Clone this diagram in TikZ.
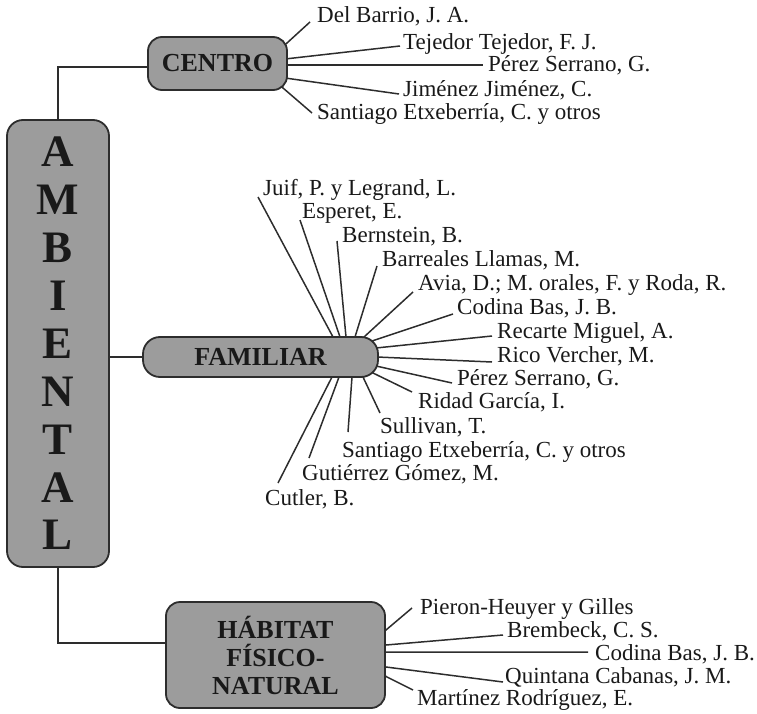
\documentclass[tikz,border=0pt]{standalone}
\usepackage{fontspec}
\setmainfont{Liberation Serif}
\usetikzlibrary{backgrounds}
\definecolor{boxgray}{RGB}{156,156,156}
\definecolor{linecol}{RGB}{45,45,45}
\definecolor{txtcol}{RGB}{25,25,25}
\begin{document}
\begin{tikzpicture}[x=1bp,y=-1bp,
  box/.style={draw=linecol, line width=1.8bp, fill=boxgray, text=txtcol,
    font=\bfseries\fontsize{26bp}{28bp}\selectfont, inner sep=0, rounded corners=14bp},
  lbl/.style={anchor=base west, inner sep=0, text=txtcol,
    font=\fontsize{23bp}{24bp}\selectfont},
  conn/.style={draw=linecol, line width=1.5bp}]
\useasboundingbox (0,0) rectangle (757,714);

% main boxes
\node[box, minimum width=102bp, minimum height=447bp, rounded corners=16bp, align=center,
  font=\bfseries\fontsize{45bp}{47.9bp}\selectfont] (amb) at (58,343.5)
  {A\\M\\B\\I\\E\\N\\T\\A\\L};
\node[box, minimum width=139bp, minimum height=53bp] (centro) at (217.5,63.5) {CENTRO};
\node[box, minimum width=235bp, minimum height=40bp, rounded corners=17bp] (fam) at (260.5,357) {FAMILIAR};
\node[box, minimum width=219bp, minimum height=106bp, align=center] (hab) at (275.5,655)
  {HÁBITAT\\FÍSICO-\\NATURAL};

% main connectors
\draw[conn] (amb.north) |- ([yshift=-3.5bp]centro.west);
\draw[conn] (amb.east |- fam.west) -- (fam.west);
\draw[conn] (amb.south) |- ([yshift=12bp]hab.west);

% centres of the fans (hidden under the boxes)
\coordinate (cc) at (260,65);
\coordinate (fc) at (350,357);
\coordinate (hc) at (355,655);

% CENTRO labels
\node[lbl] (c1) at (317,23) {Del Barrio, J. A.};
\node[lbl] (c2) at (403,50) {Tejedor Tejedor, F. J.};
\node[lbl] (c3) at (488,72) {Pérez Serrano, G.};
\node[lbl] (c4) at (403,97) {Jiménez Jiménez, C.};
\node[lbl] (c5) at (317,120) {Santiago Etxeberría, C. y otros};

% FAMILIAR labels
\node[lbl] (f1) at (263,195) {Juif, P. y Legrand, L.};
\node[lbl] (f2) at (302,218) {Esperet, E.};
\node[lbl] (f3) at (342,242) {Bernstein, B.};
\node[lbl] (f4) at (382,266) {Barreales Llamas, M.};
\node[lbl] (f5) at (418,290) {Avia, D.; M. orales, F. y Roda, R.};
\node[lbl] (f6) at (457,314) {Codina Bas, J. B.};
\node[lbl] (f7) at (497,338) {Recarte Miguel, A.};
\node[lbl] (f8) at (497,362) {Rico Vercher, M.};
\node[lbl] (f9) at (457,385) {Pérez Serrano, G.};
\node[lbl] (f10) at (418,408) {Ridad García, I.};
\node[lbl] (f11) at (380,433) {Sullivan, T.};
\node[lbl] (f12) at (342,457) {Santiago Etxeberría, C. y otros};
\node[lbl] (f13) at (302,480) {Gutiérrez Gómez, M.};
\node[lbl] (f14) at (265,505) {Cutler, B.};

% HABITAT labels
\node[lbl] (h1) at (420,614) {Pieron-Heuyer y Gilles};
\node[lbl] (h2) at (507,637) {Brembeck, C. S.};
\node[lbl] (h3) at (595,660) {Codina Bas, J. B.};
\node[lbl] (h4) at (505,683) {Quintana Cabanas, J. M.};
\node[lbl] (h5) at (417,705) {Martínez Rodríguez, E.};

\begin{pgfonlayer}{background}
% CENTRO fan
\draw[conn] (cc) -- (287,43) -- ([shift={(-7,-1)}]c1.base west);
\draw[conn] (cc) -- (285,59) -- ([shift={(-3,-4)}]c2.base west);
\draw[conn] (cc) -- (286,65) -- ([shift={(-5,-7)}]c3.base west);
\draw[conn] (cc) -- (285,78) -- ([shift={(-4,-3)}]c4.base west);
\draw[conn] (cc) -- (283,88) -- ([shift={(-5,-7)}]c5.base west);
% FAMILIAR fan
\draw[conn] (fc) -- (333,337) -- ([shift={(-5,2)}]f1.base west);
\draw[conn] (fc) -- (340,337) -- ([shift={(-2,2)}]f2.base west);
\draw[conn] (fc) -- (346,337) -- ([shift={(-5,-1)}]f3.base west);
\draw[conn] (fc) -- (355,337) -- ([shift={(-5,0)}]f4.base west);
\draw[conn] (fc) -- (364,337) -- ([shift={(-5,2)}]f5.base west);
\draw[conn] (fc) -- (372,341) -- ([shift={(-4,0)}]f6.base west);
\draw[conn] (fc) -- (376,348) -- ([shift={(-5,-2)}]f7.base west);
\draw[conn] (fc) -- (377,357) -- ([shift={(-5,0)}]f8.base west);
\draw[conn] (fc) -- (376,366) -- ([shift={(-5,-2)}]f9.base west);
\draw[conn] (fc) -- (373,373) -- ([shift={(-6,-16)}]f10.base west);
\draw[conn] (fc) -- (363,377) -- ([shift={(0,-20)}]f11.base west);
\draw[conn] (fc) -- (352,377) -- ([shift={(6,-25)}]f12.base west);
\draw[conn] (fc) -- (339,377) -- ([shift={(7,-22)}]f13.base west);
\draw[conn] (fc) -- (332,377) -- ([shift={(13,-22)}]f14.base west);
% HABITAT fan
\draw[conn] (hc) -- (386,630) -- ([shift={(-8,-6)}]h1.base west);
\draw[conn] (hc) -- (386,645) -- ([shift={(-4,-2)}]h2.base west);
\draw[conn] (hc) -- (386,652) -- ([shift={(-7,-8)}]h3.base west);
\draw[conn] (hc) -- (386,667) -- ([shift={(-2,-1)}]h4.base west);
\draw[conn] (hc) -- (387,677) -- ([shift={(-4,-15)}]h5.base west);
\end{pgfonlayer}
\end{tikzpicture}
\end{document}
